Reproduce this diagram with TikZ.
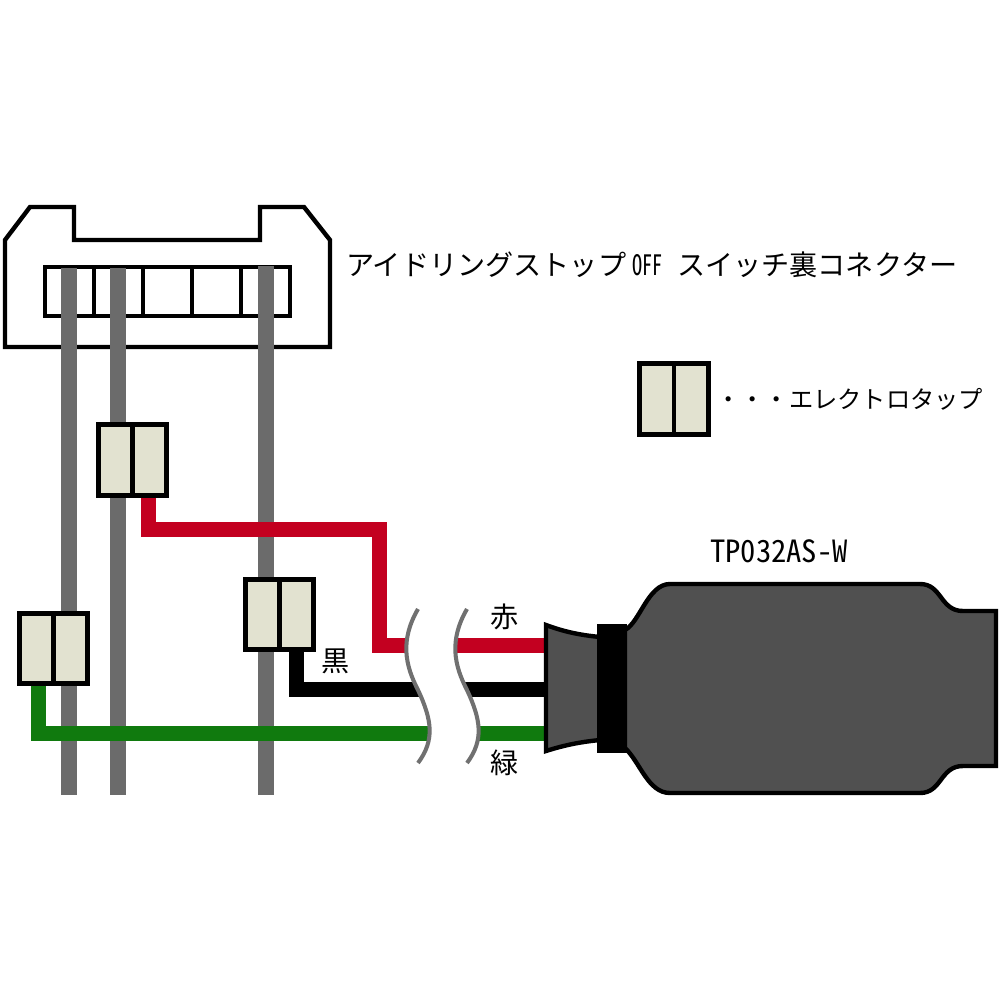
\documentclass[tikz,border=0pt]{standalone}
\usepackage{fontspec}
\usepackage{graphicx}
\usepackage{xcolor}
\usetikzlibrary{positioning}
\newfontfamily\cjk{Noto Sans CJK JP}
\newfontfamily\halfw[RawFeature=+hwid]{Noto Sans CJK JP}
\definecolor{pingray}{HTML}{6B6B6B}
\definecolor{tapfill}{HTML}{E2E2D0}
\definecolor{bodygray}{HTML}{505050}
\definecolor{wavegray}{HTML}{707070}
\definecolor{wirered}{HTML}{C30020}
\definecolor{wiregreen}{HTML}{107A0E}
\begin{document}
\begin{tikzpicture}[
  x=0.01cm, y=-0.01cm,
  outline/.style={draw=black, line width=1.25pt, line join=miter},
  pin/.style={draw=pingray, line width=0.15cm},
  wire/.style={line width=0.15cm, line join=miter},
  wave/.style={draw=wavegray, line width=1.15pt},
  tapbox/.style={draw=black, line width=1.3pt, fill=tapfill, inner sep=0pt, minimum width=0.685cm, minimum height=0.705cm,
    path picture={\draw[line width=1.3pt] (path picture bounding box.north) -- (path picture bounding box.south);}},
  jp/.style={font=\cjk\fontsize{8}{9}\selectfont, inner sep=0pt, text=black},
  jpsmall/.style={font=\cjk\fontsize{6.9}{8}\selectfont, inner sep=0pt, text=black}
]
\useasboundingbox (0,0) rectangle (1000,1000);

% switch connector
\draw[outline] (5,347) -- (5,240) -- (30,207) -- (74,207) -- (74,240) -- (260,240) -- (260,207) -- (304,207) -- (330,240) -- (330,347) -- cycle;
\draw[outline] (45,267) rectangle (290,316);
\foreach \dx in {94,143,192,241}
  \draw[outline] (\dx,267) -- (\dx,316);

\coordinate (pinatop) at (69,268);
\coordinate (pinbtop) at (118,268);
\coordinate (pinctop) at (266,266);
\coordinate (pinaend) at (69,795);
\coordinate (pinbend) at (118,795);
\coordinate (pincend) at (266,795);
\draw[pin] (pinatop) -- (pinaend);
\draw[pin] (pinbtop) -- (pinbend);
\draw[pin] (pinctop) -- (pincend);

\node[tapbox] (tapa) at (53.5,648.5) {};
\node[tapbox] (tapb) at (132.5,460) {};
\node[tapbox] (tapc) at (279.5,614.5) {};

% wires
\coordinate (redbend) at (379,529);
\coordinate (redend) at (546,645);
\coordinate (blackend) at (546,689);
\coordinate (greenend) at (546,733);
\draw[wire, draw=wirered] ([xshift=0.16cm]tapb.south) |- (redbend) |- (redend);
\draw[wire, draw=black] ([xshift=0.17cm]tapc.south) |- (blackend);
\draw[wire, draw=wiregreen] ([xshift=-0.15cm]tapa.south) |- (greenend);

% break in the wires
\fill[white] (418,609) .. controls (400,640) and (405,665) .. (418,690) .. controls (432,720) and (435,740) .. (418,763)
  -- (467,763) .. controls (484,740) and (481,720) .. (467,690) .. controls (454,665) and (449,640) .. (467,609) -- cycle;
\draw[wave] (418,609) .. controls (400,640) and (405,665) .. (418,690) .. controls (432,720) and (435,740) .. (418,763);
\draw[wave] (467,609) .. controls (449,640) and (454,665) .. (467,690) .. controls (481,720) and (484,740) .. (467,763);

% unit
\draw[outline, fill=bodygray] (546,625) .. controls (565,632) and (580,635) .. (600,637) -- (600,740) .. controls (580,742) and (565,745) .. (546,751) -- cycle;
\draw[outline, fill=bodygray] (625,630) .. controls (640,622) and (648,584) .. (670,584) -- (920,584)
  .. controls (942,584) and (940,611) .. (963,611) -- (996,611) -- (996,766) -- (963,766)
  .. controls (940,766) and (942,793) .. (920,793) -- (670,793) .. controls (648,793) and (640,762) .. (625,748) -- cycle;
\fill[black] (597,624) rectangle (627,753);

% labels
\node[jp, anchor=west] (conlabel) at (345.5,265) {アイドリングストップ {\halfw\scalebox{0.72}[1]{OFF}}\hspace{0.08cm} スイッチ裏コネクター};
\node[tapbox] (tapkey) at (674,399) {};
\node[jpsmall, right=0.05cm of tapkey] (keylabel) {・・・エレクトロタップ};
\node[jp, anchor=center] (unitlabel) at (779,551.5) {\halfw\fontsize{8.7}{9}\selectfont TP032AS-W};
\node[jp] (redlabel) at (505,617) {赤};
\node[jp] (blacklabel) at (336,661) {黒};
\node[jp] (greenlabel) at (505,763) {緑};

\end{tikzpicture}
\end{document}
